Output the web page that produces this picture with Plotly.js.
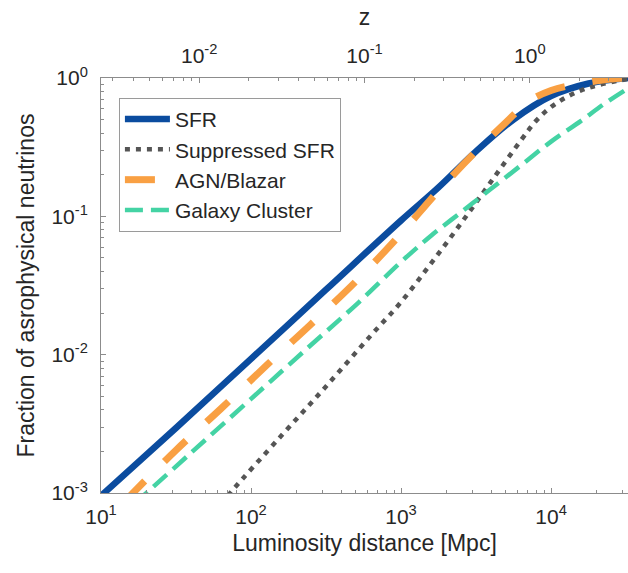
<!DOCTYPE html>
<html>
<head>
<meta charset="utf-8">
<script src="https://cdn.plot.ly/plotly-3.0.1.min.js"></script>
<style>html,body{margin:0;padding:0;background:#fff;}#chart{width:628px;height:573px;}</style>
</head>
<body>
<div id="chart"></div>
<script>
// Luminosity distance [Mpc] and fraction of astrophysical neutrinos
const sfrDist = [9.55, 31.6, 100, 316, 1000, 1778, 3162, 5623, 10000, 17783, 33113];
const sfrFrac = [0.000912, 0.00295, 0.00933, 0.0295, 0.0933, 0.162, 0.295, 0.501, 0.741, 0.912, 1.0];

const supDist = [63.1, 74.6, 158, 316, 631, 1000, 1585, 2512, 3981, 6310, 7943, 10000, 12589, 15849, 20893, 33113];
const supFrac = [0.000832, 0.001035, 0.00257, 0.00589, 0.0138, 0.0240, 0.0457, 0.0891, 0.178, 0.355, 0.490, 0.617, 0.724, 0.813, 0.891, 0.989];

const agnDist = [14.1, 31.6, 63.1, 126, 251, 501, 971, 1778, 3162, 5012, 7079, 10000, 15849, 25119, 33113];
const agnFrac = [0.000851, 0.00204, 0.00407, 0.00832, 0.0166, 0.0339, 0.0724, 0.153, 0.295, 0.479, 0.676, 0.813, 0.912, 0.982, 1.0];

const gcDist = [16.6, 39.8, 100, 251, 525, 1000, 1585, 2512, 3981, 6310, 10000, 15849, 22387, 33113];
const gcFrac = [0.000832, 0.00195, 0.00479, 0.01175, 0.0240, 0.0468, 0.0724, 0.107, 0.158, 0.234, 0.347, 0.490, 0.646, 0.851];

const seriesNames = ["SFR", "Suppressed SFR", "AGN/Blazar", "Galaxy Cluster"];

const distTickVals = [10, 100, 1000, 10000];
const distTickText = ["10<sup>1</sup>", "10<sup>2</sup>", "10<sup>3</sup>", "10<sup>4</sup>"];
const fracTickVals = [0.001, 0.01, 0.1, 1];
const fracTickText = ["10<sup>-3</sup>", "10<sup>-2</sup>", "10<sup>-1</sup>", "10<sup>0</sup>"];
const zTickVals = [0.01, 0.1, 1];
const zTickText = ["10<sup>-2</sup>", "10<sup>-1</sup>", "10<sup>0</sup>"];

function minorLog(expFrom, expTo) {
  const out = [];
  for (let e = expFrom; e <= expTo; e++) {
    for (let m = 2; m <= 9; m++) out.push(m * Math.pow(10, e));
  }
  return out;
}

const axisGray = '#8c8c8c';
const textCol = '#262626';
const FONT = 'Liberation Sans, Arial, Helvetica, sans-serif';

const traces = [
  {x: sfrDist, y: sfrFrac, name: seriesNames[0], type: 'scatter', mode: 'lines',
   line: {color: '#0b4c9f', width: 6.5, shape: 'spline', smoothing: 1}},
  {x: supDist, y: supFrac, name: seriesNames[1], type: 'scatter', mode: 'lines',
   line: {color: '#555555', width: 4.5, dash: '5px,6px', shape: 'spline', smoothing: 1}},
  {x: agnDist, y: agnFrac, name: seriesNames[2], type: 'scatter', mode: 'lines',
   line: {color: '#f9a043', width: 7, dash: '30px,28px', shape: 'spline', smoothing: 1}},
  {x: gcDist, y: gcFrac, name: seriesNames[3], type: 'scatter', mode: 'lines',
   line: {color: '#44d3a4', width: 4.5, dash: '18px,8px', shape: 'spline', smoothing: 1}},
  // helper (no visible marks) so the redshift axis on top is drawn
  {x: zTickVals, y: zTickVals.map(() => null), xaxis: 'x2', yaxis: 'y', type: 'scatter', mode: 'lines',
   showlegend: false, hoverinfo: 'skip'}
];

const layout = {
  width: 628, height: 573,
  margin: {l: 101, r: 0, t: 78, b: 80, pad: 0},
  paper_bgcolor: '#ffffff', plot_bgcolor: '#ffffff',
  font: {family: FONT, color: textCol, size: 21},
  showlegend: true,
  legend: {
    x: 0.034, y: 0.952, xanchor: 'left', yanchor: 'top',
    bgcolor: '#ffffff', bordercolor: '#9a9a9a', borderwidth: 1,
    font: {family: FONT, size: 21, color: textCol},
    itemwidth: 45, tracegroupgap: 0
  },
  xaxis: {
    type: 'log', range: [1, 4.513],
    tickmode: 'array', tickvals: distTickVals, ticktext: distTickText,
    ticks: 'inside', ticklen: 5, tickwidth: 1, tickcolor: axisGray,
    minor: {tickmode: 'array', tickvals: minorLog(1, 4), ticks: 'inside', ticklen: 3, tickcolor: axisGray, showgrid: false},
    showline: true, linecolor: axisGray, linewidth: 1, mirror: false,
    showgrid: false, zeroline: false,
    tickfont: {size: 21, color: textCol},
    ticklabelstandoff: 5,
    title: {text: 'Luminosity distance [Mpc]', font: {size: 23, color: textCol}, standoff: 7}
  },
  xaxis2: {
    type: 'log', range: [-2.594, 0.594], overlaying: 'x', side: 'top', anchor: 'y',
    tickmode: 'array', tickvals: zTickVals, ticktext: zTickText,
    ticks: 'inside', ticklen: 5, tickwidth: 1, tickcolor: axisGray,
    minor: {tickmode: 'array', tickvals: minorLog(-3, 0), ticks: 'inside', ticklen: 3, tickcolor: axisGray, showgrid: false},
    showline: true, linecolor: axisGray, linewidth: 1,
    showgrid: false, zeroline: false,
    tickfont: {size: 21, color: textCol},
    ticklabelstandoff: 6,
    title: {text: 'z', font: {size: 23, color: textCol}, standoff: 8}
  },
  yaxis: {
    type: 'log', range: [-3, 0],
    tickmode: 'array', tickvals: fracTickVals, ticktext: fracTickText,
    ticks: 'inside', ticklen: 5, tickwidth: 1, tickcolor: axisGray,
    minor: {tickmode: 'array', tickvals: minorLog(-3, -1), ticks: 'inside', ticklen: 3, tickcolor: axisGray, showgrid: false},
    showline: true, linecolor: axisGray, linewidth: 1, mirror: false,
    showgrid: false, zeroline: false,
    tickfont: {size: 21, color: textCol},
    ticklabelstandoff: 8,
    title: {text: 'Fraction of asrophysical neutrinos', font: {size: 23, color: textCol}, standoff: 10}
  }
};

Plotly.newPlot('chart', traces, layout, {displayModeBar: false, staticPlot: true});
</script>
</body>
</html>
